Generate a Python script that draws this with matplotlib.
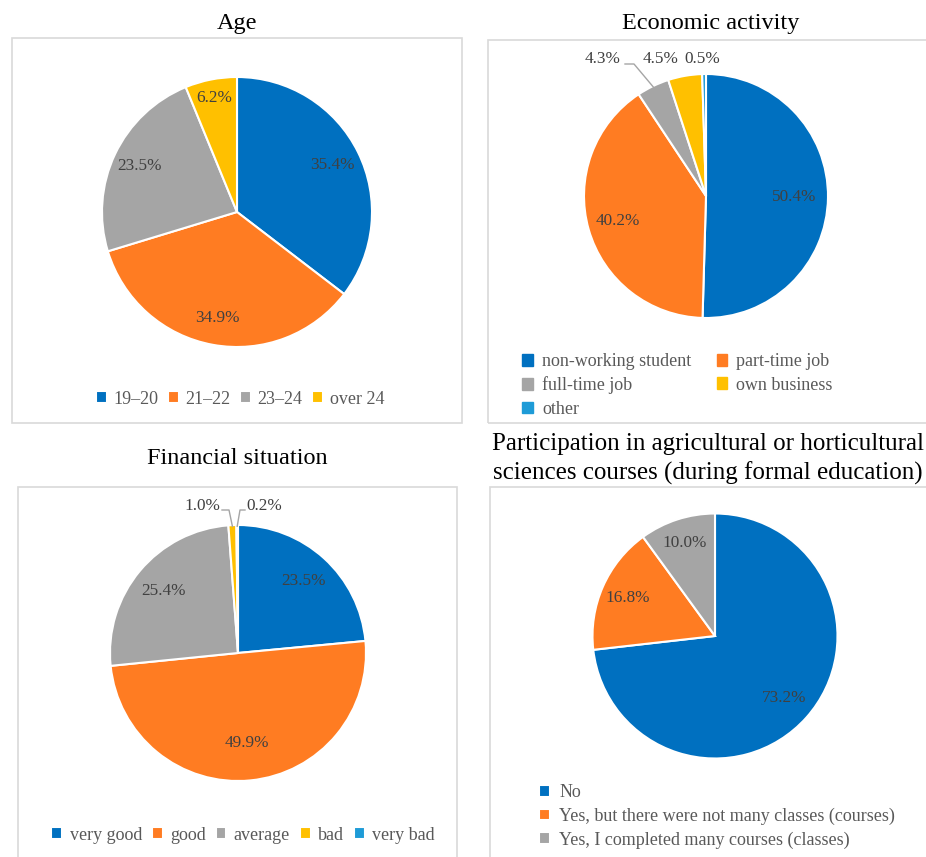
import matplotlib
matplotlib.use("Agg")
import matplotlib.pyplot as plt
import numpy as np
from matplotlib.patches import Rectangle, Patch
from matplotlib.lines import Line2D

plt.rcParams['font.family'] = ['Liberation Serif', 'DejaVu Serif']

# ---- data ----
age_labels = ["19–20", "21–22", "23–24", "over 24"]
age_values = [35.4, 34.9, 23.5, 6.2]

econ_labels = ["non-working student", "part-time job", "full-time job", "own business", "other"]
econ_values = [50.4, 40.2, 4.3, 4.5, 0.5]

fin_labels = ["very good", "good", "average", "bad", "very bad"]
fin_values = [23.5, 49.9, 25.4, 1.0, 0.2]

part_labels = ["No", "Yes, but there were not many classes (courses)",
               "Yes, I completed many courses (classes)"]
part_values = [73.2, 16.8, 10.0]

COLORS = ["#0070C0", "#FF7C22", "#A5A5A5", "#FFC000", "#1E9BD7"]
LABEL_COLOR = "#404040"
LEGEND_COLOR = "#595959"
TITLE_SIZE = 17.5
LABEL_SIZE = 12.4
LEGEND_SIZE = 13

W, H = 926, 857
fig = plt.figure(figsize=(W / 100, H / 100), dpi=100)


def fx(x):
    return x / W


def fy(y):
    return 1 - y / H


def panel_box(x0, y0, x1, y1):
    fig.patches.append(Rectangle((fx(x0), fy(y1)), (x1 - x0) / W, (y1 - y0) / H,
                                 transform=fig.transFigure, fill=False,
                                 edgecolor="#D9D9D9", linewidth=1.2))


def pie_axes(cx, cy, r, values):
    ax = fig.add_axes([fx(cx - r), fy(cy + r), 2 * r / W, 2 * r / H])
    wedges, _ = ax.pie(values, colors=COLORS[:len(values)], startangle=90,
                       counterclock=False, radius=1,
                       wedgeprops=dict(edgecolor="white", linewidth=1.5))
    ax.set_xlim(-1, 1)
    ax.set_ylim(-1, 1)
    ax.axis("off")
    return ax, wedges


def inner_labels(ax, wedges, values, dists):
    for w, v, d in zip(wedges, values, dists):
        if d is None:
            continue
        t = np.deg2rad((w.theta1 + w.theta2) / 2)
        ax.text(d * np.cos(t), d * np.sin(t), f"{v:.1f}%", ha="center", va="center",
                fontsize=LABEL_SIZE, color=LABEL_COLOR)


def edge_point(w, rr=1.0):
    t = np.deg2rad((w.theta1 + w.theta2) / 2)
    return rr * np.cos(t), rr * np.sin(t)


legend_kw = dict(bbox_transform=fig.transFigure, frameon=False, fontsize=LEGEND_SIZE,
                 handlelength=0.6, handleheight=0.6, labelcolor=LEGEND_COLOR)

# ---- Age ----
panel_box(12, 38, 462, 423)
fig.text(fx(237), fy(24), "Age", ha="center", va="center", fontsize=TITLE_SIZE)
ax, wedges = pie_axes(237, 212, 135, age_values)
inner_labels(ax, wedges, age_values, [0.79, 0.80, 0.80, 0.86])
ax.legend(wedges, age_labels, loc="center", bbox_to_anchor=(fx(240), fy(399)),
          ncol=4, handletextpad=0.35, columnspacing=0.55, **legend_kw)

# ---- Economic activity ----
panel_box(488, 40, 940, 423)
fig.text(fx(711), fy(24), "Economic activity", ha="center", va="center", fontsize=TITLE_SIZE)
ax, wedges = pie_axes(706, 196, 122, econ_values)
inner_labels(ax, wedges, econ_values, [0.72, 0.75, None, None, None])
r = 122
for px, idx in [(603, 2), (661, 3), (702, 4)]:
    ax.text((px - 706) / r, (196 - 59) / r, f"{econ_values[idx]:.1f}%", ha="center",
            va="center", fontsize=LABEL_SIZE, color=LABEL_COLOR)
ex, ey = edge_point(wedges[2], 0.99)
ax.add_line(Line2D([(625 - 706) / r, (634 - 706) / r, ex],
                   [(196 - 64) / r, (196 - 64) / r, ey],
                   color="#A5A5A5", linewidth=1.0, clip_on=False))
# legend entries read row by row across two columns
order = [0, 2, 4, 1, 3]
handles = [Patch(color=COLORS[i]) for i in order]
ax.legend(handles, [econ_labels[i] for i in order], loc="upper left",
          bbox_to_anchor=(fx(506), fy(337)), ncol=2, handletextpad=0.5,
          columnspacing=1.4, labelspacing=0.35, **legend_kw)

# ---- Financial situation ----
panel_box(18, 487, 457, 870)
fig.text(fx(237), fy(458), "Financial situation", ha="center", va="center", fontsize=TITLE_SIZE)
ax, wedges = pie_axes(238, 653, 128, fin_values)
inner_labels(ax, wedges, fin_values, [0.76, 0.71, 0.76, None, None])
r = 128
ax.text((202 - 238) / r, (653 - 506) / r, f"{fin_values[3]:.1f}%", ha="center",
        va="center", fontsize=LABEL_SIZE, color=LABEL_COLOR)
ax.text((264 - 238) / r, (653 - 506) / r, f"{fin_values[4]:.1f}%", ha="center",
        va="center", fontsize=LABEL_SIZE, color=LABEL_COLOR)
ex, ey = edge_point(wedges[3], 0.99)
ax.add_line(Line2D([(222 - 238) / r, (229 - 238) / r, ex],
                   [(653 - 510) / r, (653 - 510) / r, ey],
                   color="#A5A5A5", linewidth=1.0, clip_on=False))
ex, ey = edge_point(wedges[4], 0.99)
ax.add_line(Line2D([(245 - 238) / r, (240 - 238) / r, ex],
                   [(653 - 510) / r, (653 - 510) / r, ey],
                   color="#A5A5A5", linewidth=1.0, clip_on=False))
ax.legend(wedges, fin_labels, loc="center", bbox_to_anchor=(fx(243), fy(835)),
          ncol=5, handletextpad=0.4, columnspacing=0.55, **legend_kw)

# ---- Participation in courses ----
panel_box(490, 487, 940, 870)
fig.text(fx(708), fy(459), "Participation in agricultural or horticultural\n"
         "sciences courses (during formal education)", ha="center", va="center",
         fontsize=18, linespacing=1.4)
ax, wedges = pie_axes(715, 636, 122.5, part_values)
inner_labels(ax, wedges, part_values, [0.76, 0.78, 0.80])
ax.legend(wedges, part_labels, loc="upper left", bbox_to_anchor=(fx(523), fy(768)),
          ncol=1, handletextpad=0.5, labelspacing=0.35, **legend_kw)

fig.savefig("out.png", dpi=100, facecolor="white")
